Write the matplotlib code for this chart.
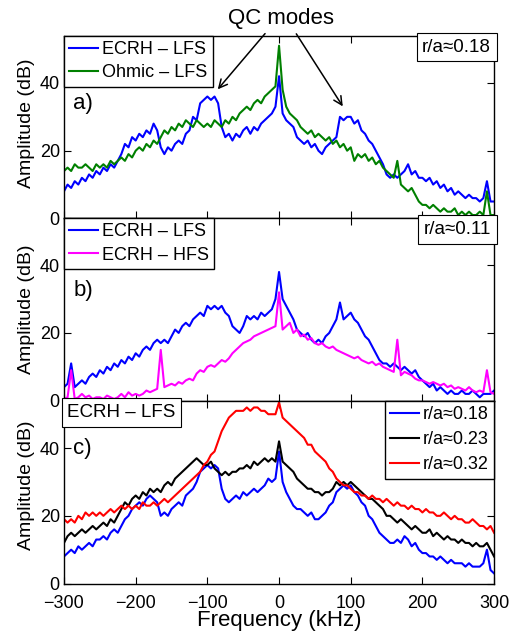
import numpy as np
import matplotlib
matplotlib.use("Agg")
import matplotlib.pyplot as plt

plt.rcParams['font.family'] = ['Liberation Sans', 'DejaVu Sans']

# frequency grid (kHz)
freq = np.arange(-300, 301, 5)

# panel a) r/a~0.18
a_ecrh_lfs = [8, 10, 9, 11, 10, 12, 11, 13, 12, 14,
              13, 15, 14, 16, 15, 17, 19, 22, 21, 24,
              23, 25, 24, 26, 25, 28, 26, 21, 19, 21,
              20, 22, 23, 22, 25, 26, 30, 29, 34, 35,
              36, 35, 36, 34, 27, 24, 25, 23, 25, 24,
              26, 27, 25, 27, 26, 28, 29, 30, 31, 33,
              42,
              31, 29, 28, 27, 24, 23, 22, 23, 21, 22,
              20, 19, 21, 22, 23, 24, 30, 29, 30, 30,
              28, 29, 26, 25, 23, 22, 20, 18, 16, 13,
              12, 13, 12, 13, 14, 16, 13, 14, 12, 12,
              11, 12, 10, 11, 9, 10, 8, 9, 7, 8,
              7, 6, 7, 6, 6, 5, 6, 11, 5, 5]
a_ohmic_lfs = [14, 15, 14, 16, 15, 15, 16, 15, 14, 16,
               15, 16, 15, 17, 16, 17, 18, 17, 19, 18,
               20, 21, 20, 22, 21, 23, 22, 24, 26, 25,
               27, 26, 28, 27, 29, 28, 27, 29, 28, 27,
               28, 27, 29, 28, 27, 29, 28, 30, 29, 31,
               32, 33, 32, 34, 35, 34, 36, 37, 38, 39,
               51,
               38, 33, 31, 30, 29, 27, 26, 25, 26, 24,
               25, 24, 23, 24, 22, 23, 21, 22, 20, 21,
               17, 19, 18, 19, 17, 18, 16, 17, 15, 14,
               13, 12, 17, 10, 9, 8, 9, 7, 5, 4,
               4, 3, 4, 3, 2, 3, 2, 2, 3, 1,
               2, 1, 2, 1, 1, 2, 1, 8, 1, 1]

# panel b) r/a~0.11
b_ecrh_lfs = [4, 5, 11, 4, 5, 6, 5, 7, 8, 7,
              9, 8, 10, 9, 11, 10, 12, 11, 13, 12,
              14, 13, 15, 16, 15, 17, 18, 17, 18, 17,
              19, 21, 20, 22, 23, 22, 24, 25, 26, 25,
              28, 27, 28, 27, 28, 26, 25, 22, 21, 20,
              22, 25, 24, 25, 24, 26, 25, 26, 27, 30,
              38,
              30, 28, 26, 24, 21, 20, 19, 20, 18, 17,
              18, 17, 19, 20, 22, 24, 29, 24, 25, 26,
              24, 23, 21, 19, 18, 16, 14, 12, 11, 11,
              10, 11, 10, 9, 10, 9, 8, 9, 7, 6,
              5, 4, 5, 3, 4, 3, 2, 3, 2, 2,
              3, 2, 2, 3, 2, 1, 2, 2, 2, 3]
b_ecrh_hfs = [0.5, 1, 9, 0.5, 1, 2, 1, 1.5, 0.5, 1,
              1, 0.5, 1.5, 1, 0.5, 1, 2, 1, 2.5, 1.5,
              2, 1.5, 2, 3, 2.5, 3, 3.5, 15, 4, 4.5,
              5, 4.5, 5.5, 5, 6, 6.5, 6, 8, 9, 8.5,
              10, 10.5, 10, 11, 12, 11.5, 12.5, 14, 15, 16,
              17, 17.5, 18, 19, 19.5, 20, 20.5, 21, 21.5, 22,
              32,
              21, 22, 23, 20, 21, 19, 19.5, 18, 18.5, 17,
              16.5, 17, 16, 15.5, 16, 15, 14.5, 14, 13.5, 13,
              12.5, 13, 12, 11.5, 11, 11.5, 10.5, 11, 10, 9.5,
              9, 8.5, 18, 7.5, 8.5, 8, 7.5, 6.5, 6, 6,
              5.5, 5, 5.5, 5, 4.5, 5, 4, 4.5, 3.5, 4,
              3.5, 3, 4, 3, 2.5, 3, 2.5, 9, 2.5, 2]

# panel c) ECRH - LFS, three radii
c_ra018 = [8, 9, 10, 9, 11, 10, 11, 12, 11, 13,
           13, 14, 13, 15, 16, 15, 17, 19, 20, 22,
           23, 24, 23, 25, 26, 25, 24, 20, 21, 20,
           22, 23, 24, 23, 26, 27, 28, 30, 33, 34,
           35, 34, 35, 34, 28, 25, 24, 25, 26, 25,
           27, 26, 27, 28, 27, 28, 29, 31, 30, 31,
           39,
           30, 27, 25, 23, 22, 22, 21, 20, 21, 19,
           19, 20, 21, 23, 24, 27, 28, 29, 28, 29,
           27, 26, 24, 23, 20, 19, 17, 15, 14, 13,
           12, 12, 13, 12, 14, 13, 11, 12, 10, 9,
           9, 8, 8, 7, 8, 7, 6, 7, 6, 6,
           6, 5, 6, 5, 5, 5, 6, 10, 4, 3]
c_ra023 = [12, 14, 15, 14, 15, 16, 15, 16, 17, 16,
           17, 18, 17, 19, 18, 20, 22, 24, 23, 25,
           26, 25, 27, 26, 28, 27, 28, 27, 29, 30,
           29, 31, 32, 33, 34, 35, 36, 37, 36, 35,
           35, 36, 34, 33, 32, 33, 32, 33, 33, 34,
           34, 35, 34, 36, 35, 36, 37, 36, 37, 36,
           42,
           36, 35, 34, 33, 31, 30, 29, 28, 28, 27,
           27, 26, 27, 27, 28, 30, 29, 30, 29, 30,
           29, 28, 27, 26, 25, 25, 24, 23, 22, 20,
           20, 19, 18, 19, 18, 17, 16, 17, 16, 15,
           15, 16, 14, 15, 14, 13, 14, 13, 13, 12,
           13, 12, 12, 11, 12, 11, 11, 12, 10, 8]
c_ra032 = [19, 18, 19, 18, 20, 19, 21, 20, 21, 20,
           21, 20, 21, 22, 21, 22, 23, 22, 23, 22,
           23, 22, 24, 23, 23, 24, 23, 24, 25, 24,
           25, 26, 27, 28, 29, 30, 31, 32, 33, 35,
           36, 38, 39, 42, 45, 47, 49, 50, 51, 51,
           51, 52, 51, 52, 52, 51, 51, 50, 50, 50,
           53.5,
           49, 48, 47, 46, 45, 44, 43, 41, 41, 39,
           38, 37, 36, 34, 33, 31, 30, 29, 29, 28,
           27, 27, 26, 26, 25, 26, 25, 25, 24, 25,
           24, 23, 24, 23, 23, 22, 23, 22, 22, 21,
           22, 21, 21, 20, 20, 21, 20, 19, 20, 19,
           19, 18, 18, 19, 18, 17, 17, 16, 17, 15]

fig = plt.figure(figsize=(5.31, 6.35), dpi=100)
L, W, H = 0.1205, 0.810, 0.288
ax_a = fig.add_axes([L, 0.656, W, H])
ax_b = fig.add_axes([L, 0.369, W, H])
ax_c = fig.add_axes([L, 0.081, W, H])

lw = 1.5
fs = 13

for ax in (ax_a, ax_b, ax_c):
    ax.set_xlim(-300, 300)
    ax.set_ylim(0, 54)
    ax.set_yticks([0, 20, 40])
    ax.set_xticks(np.arange(-300, 301, 100))
    ax.tick_params(direction='in', top=True, right=True, length=5,
                   labelsize=fs, width=0.8, pad=3)
    ax.set_ylabel('Amplitude (dB)', fontsize=fs + 1)
    for s in ax.spines.values():
        s.set_linewidth(1.0)

ax_a.yaxis.set_label_coords(-0.068, 0.52)
ax_b.yaxis.set_label_coords(-0.068, 0.5)
ax_c.yaxis.set_label_coords(-0.068, 0.54)

ax_a.tick_params(labelbottom=False)
ax_b.tick_params(labelbottom=False)
ax_c.tick_params(axis='x', pad=8)
ax_c.set_xticklabels(['\u2212300', '\u2212200', '\u2212100', '0', '100', '200', '300'])
ax_c.set_xlabel('Frequency (kHz)', fontsize=16, labelpad=-1)

leg_kw = dict(fontsize=13, fancybox=False, edgecolor='black', framealpha=1,
              borderaxespad=0, handlelength=1.6, handletextpad=0.2,
              borderpad=0.3, labelspacing=0.35)
box_kw = dict(boxstyle='square,pad=0.3', fc='white', ec='black', lw=0.8)

# a)
ax_a.plot(freq, a_ecrh_lfs, color='#0000ff', lw=lw, label='ECRH \u2013 LFS')
ax_a.plot(freq, a_ohmic_lfs, color='#008000', lw=lw, label='Ohmic \u2013 LFS')
ax_a.legend(loc='upper left', **leg_kw)
ax_a.text(0.993, 0.982, 'r/a\u22480.18', transform=ax_a.transAxes, ha='right',
          va='top', fontsize=13.5, bbox=box_kw)
ax_a.text(0.022, 0.63, 'a)', transform=ax_a.transAxes, fontsize=16, va='center')
ax_a.text(3, 59, 'QC modes', ha='center', va='center', fontsize=16,
          clip_on=False)
arrow = dict(arrowstyle='->', color='black', lw=1.1, mutation_scale=15)
ax_a.annotate('', xy=(-88, 37.5), xytext=(-17, 55.2), arrowprops=arrow,
              annotation_clip=False)
ax_a.annotate('', xy=(91, 32.4), xytext=(22, 55.2), arrowprops=arrow,
              annotation_clip=False)

# b)
ax_b.plot(freq, b_ecrh_lfs, color='#0000ff', lw=lw, label='ECRH \u2013 LFS')
ax_b.plot(freq, b_ecrh_hfs, color='#ff00ff', lw=lw, label='ECRH \u2013 HFS')
ax_b.legend(loc='upper left', **leg_kw)
ax_b.text(0.993, 0.982, 'r/a\u22480.11', transform=ax_b.transAxes, ha='right',
          va='top', fontsize=13.5, bbox=box_kw)
ax_b.text(0.022, 0.60, 'b)', transform=ax_b.transAxes, fontsize=16, va='center')

# c)
ax_c.plot(freq, c_ra018, color='#0000ff', lw=lw, label='r/a\u22480.18')
ax_c.plot(freq, c_ra023, color='black', lw=lw, label='r/a\u22480.23')
ax_c.plot(freq, c_ra032, color='#ff0000', lw=lw, label='r/a\u22480.32')
leg_c = dict(leg_kw, labelspacing=0.45)
ax_c.legend(loc='upper right', **leg_c)
ax_c.text(0.008, 0.982, 'ECRH \u2013 LFS', transform=ax_c.transAxes, ha='left',
          va='top', fontsize=13.5, bbox=box_kw)
ax_c.text(0.022, 0.74, 'c)', transform=ax_c.transAxes, fontsize=16, va='center')

fig.savefig('out.png', dpi=100)
